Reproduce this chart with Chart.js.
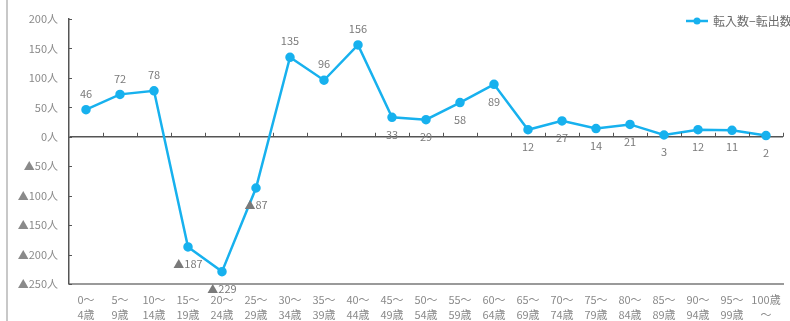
<!DOCTYPE html>
<html lang="ja">
<head>
<meta charset="utf-8">
<title>年齢別 転入数−転出数</title>
<script src="https://cdn.jsdelivr.net/npm/chart.js@4.4.1/dist/chart.umd.min.js"></script>
<style>
  html, body { margin: 0; padding: 0; background: #fff; }
  #wrap { position: relative; width: 790px; height: 321px; overflow: hidden; }
  #edge { position: absolute; left: 6px; top: 0; bottom: 0; border-left: 2px solid #c8c8c8; }
  canvas { position: absolute; left: 0; top: 0; }
</style>
</head>
<body>
<div id="wrap">
  <canvas id="migChart" width="790" height="321"></canvas>
  <div id="edge"></div>
</div>
<script>
// 年齢階級
const ageGroups = [
  ['0～', '4歳'], ['5～', '9歳'], ['10～', '14歳'], ['15～', '19歳'], ['20～', '24歳'],
  ['25～', '29歳'], ['30～', '34歳'], ['35～', '39歳'], ['40～', '44歳'], ['45～', '49歳'],
  ['50～', '54歳'], ['55～', '59歳'], ['60～', '64歳'], ['65～', '69歳'], ['70～', '74歳'],
  ['75～', '79歳'], ['80～', '84歳'], ['85～', '89歳'], ['90～', '94歳'], ['95～', '99歳'],
  ['100歳', '～']
];

// 転入数−転出数
const netMigration = [46, 72, 78, -187, -229, -87, 135, 96, 156, 33, 29, 58, 89, 12, 27, 14, 21, 3, 12, 11, 2];

// 目盛
const yTicks = [200, 150, 100, 50, 0, -50, -100, -150, -200, -250];

// ラベルを点の上に出すか下に出すか
const labelSide = ['up', 'up', 'up', 'down', 'down', 'down', 'up', 'up', 'up', 'down',
  'down', 'down', 'down', 'down', 'down', 'down', 'down', 'down', 'down', 'down', 'down'];

const seriesName = '転入数−転出数';
const BLUE = '#17b1ee';
const GRAY_TEXT = '#8a8a8a';
const FONT = '"Noto Sans CJK JP", "Noto Sans", sans-serif';

const fmt = v => (v < 0 ? '▲' + Math.abs(v) : String(v));

// 値ラベル・ゼロ線の目盛・凡例
const extras = {
  id: 'extras',
  afterDatasetsDraw(chart) {
    const { ctx, chartArea, scales } = chart;
    const y = scales.y;
    ctx.save();

    // 0人の線上の区切り目盛
    const y0 = y.getPixelForValue(0);
    const step = (chartArea.right - chartArea.left) / ageGroups.length;
    ctx.strokeStyle = '#555';
    ctx.lineWidth = 1;
    for (let i = 1; i <= ageGroups.length; i++) {
      const px = Math.round(chartArea.left + i * step) + 0.5;
      ctx.beginPath();
      ctx.moveTo(px, y0 - 4);
      ctx.lineTo(px, y0);
      ctx.stroke();
    }

    // 縦軸の内向き目盛
    yTicks.forEach(t => {
      const py = Math.round(y.getPixelForValue(t)) + 0.5;
      ctx.beginPath();
      ctx.moveTo(chartArea.left, py);
      ctx.lineTo(chartArea.left + 3, py);
      ctx.stroke();
    });

    // データラベル
    ctx.fillStyle = '#7a7a7a';
    ctx.font = '11px ' + FONT;
    ctx.textAlign = 'center';
    ctx.textBaseline = 'middle';
    chart.getDatasetMeta(0).data.forEach((pt, i) => {
      const dy = labelSide[i] === 'up' ? -16 : 17;
      ctx.fillText(fmt(netMigration[i]), pt.x, pt.y + dy);
    });

    // 凡例
    const lx = 686, ly = 21;
    ctx.strokeStyle = BLUE;
    ctx.lineWidth = 2.5;
    ctx.beginPath();
    ctx.moveTo(lx, ly);
    ctx.lineTo(lx + 22, ly);
    ctx.stroke();
    ctx.fillStyle = BLUE;
    ctx.beginPath();
    ctx.arc(lx + 11, ly, 3.5, 0, Math.PI * 2);
    ctx.fill();
    ctx.fillStyle = '#6a6a6a';
    ctx.font = '12px ' + FONT;
    ctx.textAlign = 'left';
    ctx.fillText(seriesName, lx + 27, ly);

    ctx.restore();
  }
};

new Chart(document.getElementById('migChart'), {
  type: 'line',
  data: {
    labels: ageGroups,
    datasets: [{
      label: seriesName,
      data: netMigration,
      borderColor: BLUE,
      backgroundColor: BLUE,
      borderWidth: 2.5,
      pointRadius: 3.5,
      pointHoverRadius: 3.5,
      pointBackgroundColor: BLUE,
      pointBorderColor: BLUE,
      tension: 0
    }]
  },
  options: {
    responsive: false,
    animation: false,
    layout: { padding: { top: 19, right: 7, left: 0, bottom: 0 } },
    plugins: { legend: { display: false }, tooltip: { enabled: false } },
    scales: {
      x: {
        offset: true,
        grid: { display: false },
        border: { color: '#9a9a9a', width: 2 },
        ticks: {
          color: GRAY_TEXT,
          font: { family: FONT, size: 11, lineHeight: 1.36 },
          maxRotation: 0,
          autoSkip: false,
          padding: 0
        },
        afterFit(scale) { scale.height = 37; }
      },
      y: {
        min: -250,
        max: 200,
        afterBuildTicks(scale) { scale.ticks = yTicks.map(v => ({ value: v })); },
        border: { color: '#555', width: 1.5 },
        grid: {
          drawTicks: false,
          color: c => (c.tick && c.tick.value === 0 ? '#555' : 'rgba(0,0,0,0)'),
          lineWidth: c => (c.tick && c.tick.value === 0 ? 1.5 : 0)
        },
        ticks: {
          color: GRAY_TEXT,
          font: { family: FONT, size: 11 },
          padding: 11,
          callback: v => fmt(v) + '人'
        },
        afterFit(scale) { scale.width = 69; }
      }
    }
  },
  plugins: [extras]
});
</script>
</body>
</html>
